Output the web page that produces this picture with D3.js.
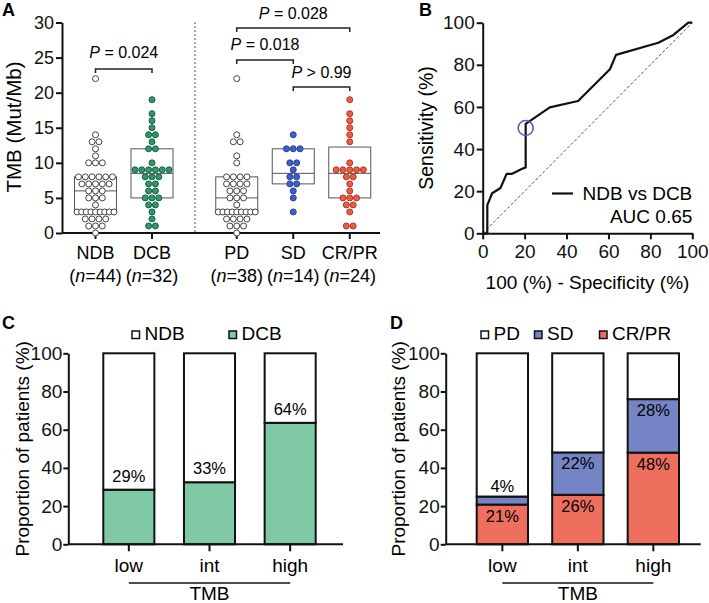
<!DOCTYPE html>
<html><head><meta charset="utf-8">
<script src="https://cdn.jsdelivr.net/npm/d3@7"></script>
<style>
body{margin:0;background:#fff;}
svg{display:block;font-family:"Liberation Sans",Arial,Helvetica,sans-serif;}
.ax path,.ax line{stroke:#111;stroke-width:2;}
.ax text{fill:#111;}
</style></head><body>
<svg id="c" width="709" height="603"></svg>
<script>
// ---------- Panel A data ----------
const groupsA = ["NDB","DCB","PD","SD","CR/PR"];
const groupN = [44,32,38,14,24];
const groupSlot = [0,1,2.5,3.5,4.5];
const tmbNDB = [22,14,13,13,12,11,10,10,10,8,8,8,8,8,8,7,7,7,7,7,6,6,6,5,5,5,4,3,3,3,3,3,3,3,3,3,2,2,2,2,1,1,1,0];
const tmbDCB = [19,17,16,15,14,14,13,12,12,10,9,9,9,9,9,9,8,8,8,7,7,6,6,5,5,5,4,4,3,2,1,1];
const tmbPD = [22,14,13,13,11,10,8,8,8,8,7,7,7,7,6,6,6,5,5,5,4,3,3,3,3,3,3,3,3,3,2,2,2,2,1,1,1,0];
const tmbSD = [14,12,12,12,10,10,9,8,8,7,7,6,5,3];
const tmbCRPR = [19,17,16,15,14,13,10,9,9,9,9,9,8,8,7,6,5,5,5,4,4,3,1,1];
const boxQ1 = [3,5,3,7,5];
const boxMed = [6,8.5,5,8.5,8.5];
const boxQ3 = [8,12,8,12,12.25];
const yTicksA = [0,5,10,15,20,25,30];
const pLabels = ["0.024","0.018","0.028","0.99"];
const pOps = ["=","=","=",">"];
const pPairs = [[0,1],[2,3],[2,4],[3,4]];
// ---------- Panel B data ----------
const rocFPR = [0,2.2,2.2,4.5,8.5,11.4,13.8,18.6,20.5,20.5,32,45.5,60.7,63.6,83.8,91,98.1,100];
const rocSens = [0,0,13.4,19,21.5,28.2,28.2,30.5,31.3,52,59.8,62.8,77.9,84.7,90.5,94.2,100,100];
const cutFPR = 20.5, cutSens = 50;
const ticksB = [0,20,40,60,80,100];
const aucLabel = "AUC 0.65";
// ---------- Panel C / D data ----------
const tmbLevels = ["low","int","high"];
const dcbPct = [28.6,32.5,63.6];
const crprPct = [20.8,25.9,48];
const sdPct = [4.2,22.2,28];
const ticksCD = [0,20,40,60,80,100];

const svg = d3.select("#c");
const FONT = 18;

function panelLabel(t,x,y){svg.append("text").attr("x",x).attr("y",y).attr("font-size",18).attr("font-weight","bold").text(t);}

// ================= Panel A =================
panelLabel("A",2,16);
const yA = d3.scaleLinear([0,30],[233,22.5]);
const slotX = d3.scaleLinear([0,4.5],[95.5,349.75]);
const xA = i => slotX(groupSlot[i]);
const gA = svg.append("g");
gA.append("g").attr("class","ax").attr("transform","translate(62,0)")
  .call(d3.axisLeft(yA).tickValues(yTicksA).tickSize(6).tickPadding(2).tickSizeOuter(0))
  .call(g=>g.selectAll("text").attr("font-size",FONT).attr("font-family",null));
gA.append("line").attr("x1",62).attr("x2",380).attr("y1",yA(0)).attr("y2",yA(0)).attr("stroke","#111").attr("stroke-width",2);
gA.selectAll(".xt").data(groupsA).join("line").attr("x1",(d,i)=>xA(i)).attr("x2",(d,i)=>xA(i))
  .attr("y1",yA(0)).attr("y2",yA(0)+6).attr("stroke","#111").attr("stroke-width",2);
gA.append("text").attr("transform",`translate(21,127) rotate(-90)`).attr("text-anchor","middle")
  .attr("font-size",20.5).text("TMB (Mut/Mb)");
// category labels
groupsA.forEach((g,i)=>{
  gA.append("text").attr("x",xA(i)).attr("y",259).attr("text-anchor","middle").attr("font-size",FONT).text(g);
  const t = gA.append("text").attr("x",xA(i)).attr("y",282).attr("text-anchor","middle").attr("font-size",FONT);
  t.append("tspan").text("(");
  t.append("tspan").attr("font-style","italic").text("n");
  t.append("tspan").text("="+groupN[i]+")");
});
// dotted separator
gA.append("line").attr("x1",195).attr("x2",195).attr("y1",yA(30)).attr("y2",yA(0))
  .attr("stroke","#333").attr("stroke-width",1.3).attr("stroke-dasharray","1.3,2.7");
// boxes
const boxW = 42;
groupsA.forEach((g,i)=>{
  const cx = xA(i);
  gA.append("rect").attr("x",cx-boxW/2).attr("y",yA(boxQ3[i])).attr("width",boxW)
    .attr("height",yA(boxQ1[i])-yA(boxQ3[i])).attr("fill","none").attr("stroke","#555").attr("stroke-width",1);
  gA.append("line").attr("x1",cx-boxW/2).attr("x2",cx+boxW/2).attr("y1",yA(boxMed[i])).attr("y2",yA(boxMed[i]))
    .attr("stroke","#555").attr("stroke-width",1);
});
// dots
const dotSets = [tmbNDB,tmbDCB,tmbPD,tmbSD,tmbCRPR];
const dotFill = ["#fff","#2f976c","#fff","#3d5fcc","#ec5b42"];
const dotStroke = ["#444","#1d5e43","#444","#283f95","#a8392a"];
dotSets.forEach((vals,i)=>{
  const rows = d3.groups(vals,v=>v);
  rows.forEach(([v,arr])=>{
    const n = arr.length;
    const s = n>1 ? Math.min(6.8, 37/(n-1)) : 0;
    arr.forEach((_,k)=>{
      gA.append("circle").attr("cx",xA(i)+(k-(n-1)/2)*s).attr("cy",yA(v)).attr("r",3)
        .attr("fill",dotFill[i]).attr("stroke",dotStroke[i]).attr("stroke-width",1);
    });
  });
});
// p-value brackets
const bracketY = [69,60,28,87];
const textY = [58,50,19,78];
pPairs.forEach(([a,b],k)=>{
  const x1 = xA(a), x2 = xA(b), y = bracketY[k];
  gA.append("path").attr("d",`M${x1},${y+4}V${y}H${x2}V${y+4}`).attr("fill","none").attr("stroke","#222").attr("stroke-width",1.5);
  const t = gA.append("text").attr("x",(x1+x2)/2).attr("y",textY[k]).attr("text-anchor","middle").attr("font-size",16);
  t.append("tspan").attr("font-style","italic").text("P");
  t.append("tspan").text(" "+pOps[k]+" "+pLabels[k]);
});

// ================= Panel B =================
panelLabel("B",419,16);
const xB = d3.scaleLinear([0,100],[482.7,692.3]);
const yB = d3.scaleLinear([0,100],[233.3,22.7]);
const gB = svg.append("g");
gB.append("g").attr("class","ax").attr("transform",`translate(${xB(0)},0)`)
  .call(d3.axisLeft(yB).tickValues(ticksB).tickSize(6).tickPadding(2).tickSizeOuter(0))
  .call(g=>g.selectAll("text").attr("font-size",19).attr("font-family",null));
gB.append("g").attr("class","ax").attr("transform",`translate(0,${yB(0)})`)
  .call(d3.axisBottom(xB).tickValues(ticksB).tickSize(6).tickPadding(5).tickSizeOuter(0))
  .call(g=>g.selectAll("text").attr("font-size",19).attr("font-family",null));
gB.append("text").attr("transform",`translate(433,${(yB(0)+yB(100))/2}) rotate(-90)`).attr("text-anchor","middle")
  .attr("font-size",19.5).text("Sensitivity (%)");
gB.append("text").attr("x",(xB(0)+xB(100))/2).attr("y",289).attr("text-anchor","middle").attr("font-size",19)
  .text("100 (%) - Specificity (%)");
gB.append("line").attr("x1",xB(0)).attr("y1",yB(0)).attr("x2",xB(100)).attr("y2",yB(100))
  .attr("stroke","#444").attr("stroke-width",0.9).attr("stroke-dasharray","3,2");
const rocLine = d3.line().x((d,i)=>xB(rocFPR[i])).y((d,i)=>yB(rocSens[i]));
gB.append("path").attr("d",rocLine(rocFPR)).attr("fill","none").attr("stroke","#111").attr("stroke-width",2.2).attr("stroke-linejoin","round");
gB.append("circle").attr("cx",xB(cutFPR)).attr("cy",yB(cutSens)).attr("r",7.5).attr("fill","none")
  .attr("stroke","#4a62b8").attr("stroke-width",1.6);
gB.append("line").attr("x1",552).attr("x2",573).attr("y1",193.5).attr("y2",193.5).attr("stroke","#111").attr("stroke-width",2.2);
gB.append("text").attr("x",xB(100)).attr("y",200).attr("text-anchor","end").attr("font-size",19).text("NDB vs DCB");
gB.append("text").attr("x",xB(100)).attr("y",223).attr("text-anchor","end").attr("font-size",19).text(aucLabel);

// ================= Panels C & D =================
function stackPanel(opts){
  const {x0,x1,bandRange,pad,series,colors,names,legendX,labelInside} = opts;
  const y = d3.scaleLinear([0,100],[544.3,353.3]);
  const x = d3.scaleBand(tmbLevels,bandRange).paddingInner(pad).paddingOuter(0);
  const g = svg.append("g");
  const rows = tmbLevels.map((lv,i)=>{
    const o = {level:lv};
    let sum = 0;
    series.forEach((s,k)=>{ if(k<series.length-1){o[names[k]]=s[i]; sum+=s[i];} });
    o[names[names.length-1]] = 100-sum;
    return o;
  });
  const stack = d3.stack().keys(names)(rows);
  stack.forEach((layer,k)=>{
    g.selectAll(null).data(layer).join("rect")
      .attr("x",d=>x(d.data.level)).attr("width",x.bandwidth())
      .attr("y",d=>y(d[1])).attr("height",d=>y(d[0])-y(d[1]))
      .attr("fill",colors[k]).attr("stroke","#111").attr("stroke-width",2);
  });
  g.append("g").attr("class","ax").attr("transform",`translate(${x0},0)`)
    .call(d3.axisLeft(y).tickValues(ticksCD).tickSize(5).tickPadding(1).tickSizeOuter(0))
    .call(gg=>gg.selectAll("text").attr("font-size",19).attr("font-family",null));
  g.append("line").attr("x1",x0).attr("x2",x1).attr("y1",y(0)).attr("y2",y(0)).attr("stroke","#111").attr("stroke-width",2);
  tmbLevels.forEach(lv=>{
    const cx = x(lv)+x.bandwidth()/2;
    g.append("line").attr("x1",cx).attr("x2",cx).attr("y1",y(0)).attr("y2",y(0)+7).attr("stroke","#111").attr("stroke-width",2);
    g.append("text").attr("x",cx).attr("y",572).attr("text-anchor","middle").attr("font-size",19).text(lv);
  });
  const cL = x(tmbLevels[0])+x.bandwidth()/2, cR = x(tmbLevels[2])+x.bandwidth()/2;
  g.append("line").attr("x1",cL).attr("x2",cR).attr("y1",583).attr("y2",583).attr("stroke","#111").attr("stroke-width",1.5);
  g.append("text").attr("x",(cL+cR)/2).attr("y",600).attr("text-anchor","middle").attr("font-size",19).text("TMB");
  g.append("text").attr("transform",`translate(${opts.titleX},${(y(0)+y(100))/2}) rotate(-90)`).attr("text-anchor","middle")
    .attr("font-size",19).text("Proportion of patients (%)");
  const order = opts.legendOrder;
  order.forEach((k,j)=>{
    g.append("rect").attr("x",legendX[j]).attr("y",331).attr("width",7.5).attr("height",7.5)
      .attr("fill",colors[k]).attr("stroke","#111").attr("stroke-width",1.5);
    g.append("text").attr("x",legendX[j]+12.5).attr("y",339.5).attr("font-size",19).text(names[k]);
  });
  labelInside(g,stack,x,y);
}

// Panel C
panelLabel("C",2,329);
stackPanel({
  x0:68.3, x1:343, bandRange:[103.3,315.7], pad:0.367, titleX:29,
  series:[dcbPct,null], names:["DCB","NDB"], colors:["#80c9a6","#fff"],
  legendOrder:[1,0], legendX:[132,229],
  labelInside:(g,stack,x,y)=>{
    stack[0].forEach(d=>{
      g.append("text").attr("x",x(d.data.level)+x.bandwidth()/2).attr("y",y(d[1])-8)
        .attr("text-anchor","middle").attr("font-size",16.5).text(Math.round(d[1]-d[0])+"%");
    });
  }
});

// Panel D
panelLabel("D",390,329);
stackPanel({
  x0:445.7, x1:700.7, bandRange:[476.7,679], pad:0.32, titleX:405,
  series:[crprPct,sdPct,null], names:["CR/PR","SD","PD"], colors:["#ef6f5e","#7484c4","#fff"],
  legendOrder:[2,1,0], legendX:[481,534.5,599.5],
  labelInside:(g,stack,x,y)=>{
    [0,1].forEach(k=>{
      stack[k].forEach(d=>{
        const v = d[1]-d[0];
        const small = (y(d[0])-y(d[1]))<20;
        g.append("text").attr("x",x(d.data.level)+x.bandwidth()/2)
          .attr("y",small ? y(d[1])-5 : y(d[1])+17)
          .attr("text-anchor","middle").attr("font-size",16.5).text(Math.round(v)+"%");
      });
    });
  }
});
</script>
</body></html>
